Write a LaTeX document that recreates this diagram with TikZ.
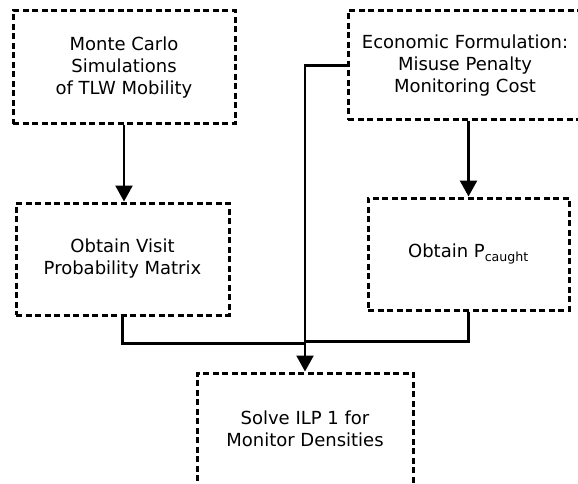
\documentclass[tikz,border=0pt]{standalone}
\usepackage{fontspec}
\setmainfont{DejaVu Sans}
\usetikzlibrary{arrows.meta}

\begin{document}
\begin{tikzpicture}[x=1pt, y=-1pt,
  every node/.style = {shape=rectangle, draw, align=center,
    line width=3pt, dash pattern=on 6pt off 3.5pt,
    font=\fontsize{18}{22}\selectfont},
  flow/.style = {draw, line width=2.4pt, solid,
    -{Triangle[width=17pt, length=16pt]}},
  link/.style = {draw, line width=2.4pt, solid}]
  \useasboundingbox (0,0) rectangle (578,484);
  \clip (0,0) rectangle (578,484);
  \node[minimum width=222pt, minimum height=113pt] (carlo) at (124,67.5)
    {Monte Carlo\\Simulations\\of TLW Mobility};
  \node[minimum width=234pt, minimum height=109pt] (econ) at (465,65.5)
    {Economic Formulation:\\Misuse Penalty\\Monitoring Cost};
  \node[minimum width=213pt, minimum height=112pt] (visit) at (122.5,259)
    {Obtain Visit\\Probability Matrix};
  \node[minimum width=201pt, minimum height=112pt] (caught) at (468.5,254)
    {Obtain P\textsubscript{caught}};
  \node[minimum width=216pt, minimum height=112pt] (ilp) at (305,429)
    {Solve ILP 1 for\\Monitor Densities};
  \coordinate (meetl) at (305,343.5);
  \coordinate (meetr) at (305,341.5);
  % arrows
  \draw[flow] (carlo.south) -- (carlo.south |- visit.north);
  \draw[flow] (caught.north |- econ.south) -- (caught.north);
  \draw[flow] (econ.west) -| (ilp.north);
  \draw[link] (visit.south) |- (meetl);
  \draw[link] (caught.south) |- (meetr);
\end{tikzpicture}
\end{document}
